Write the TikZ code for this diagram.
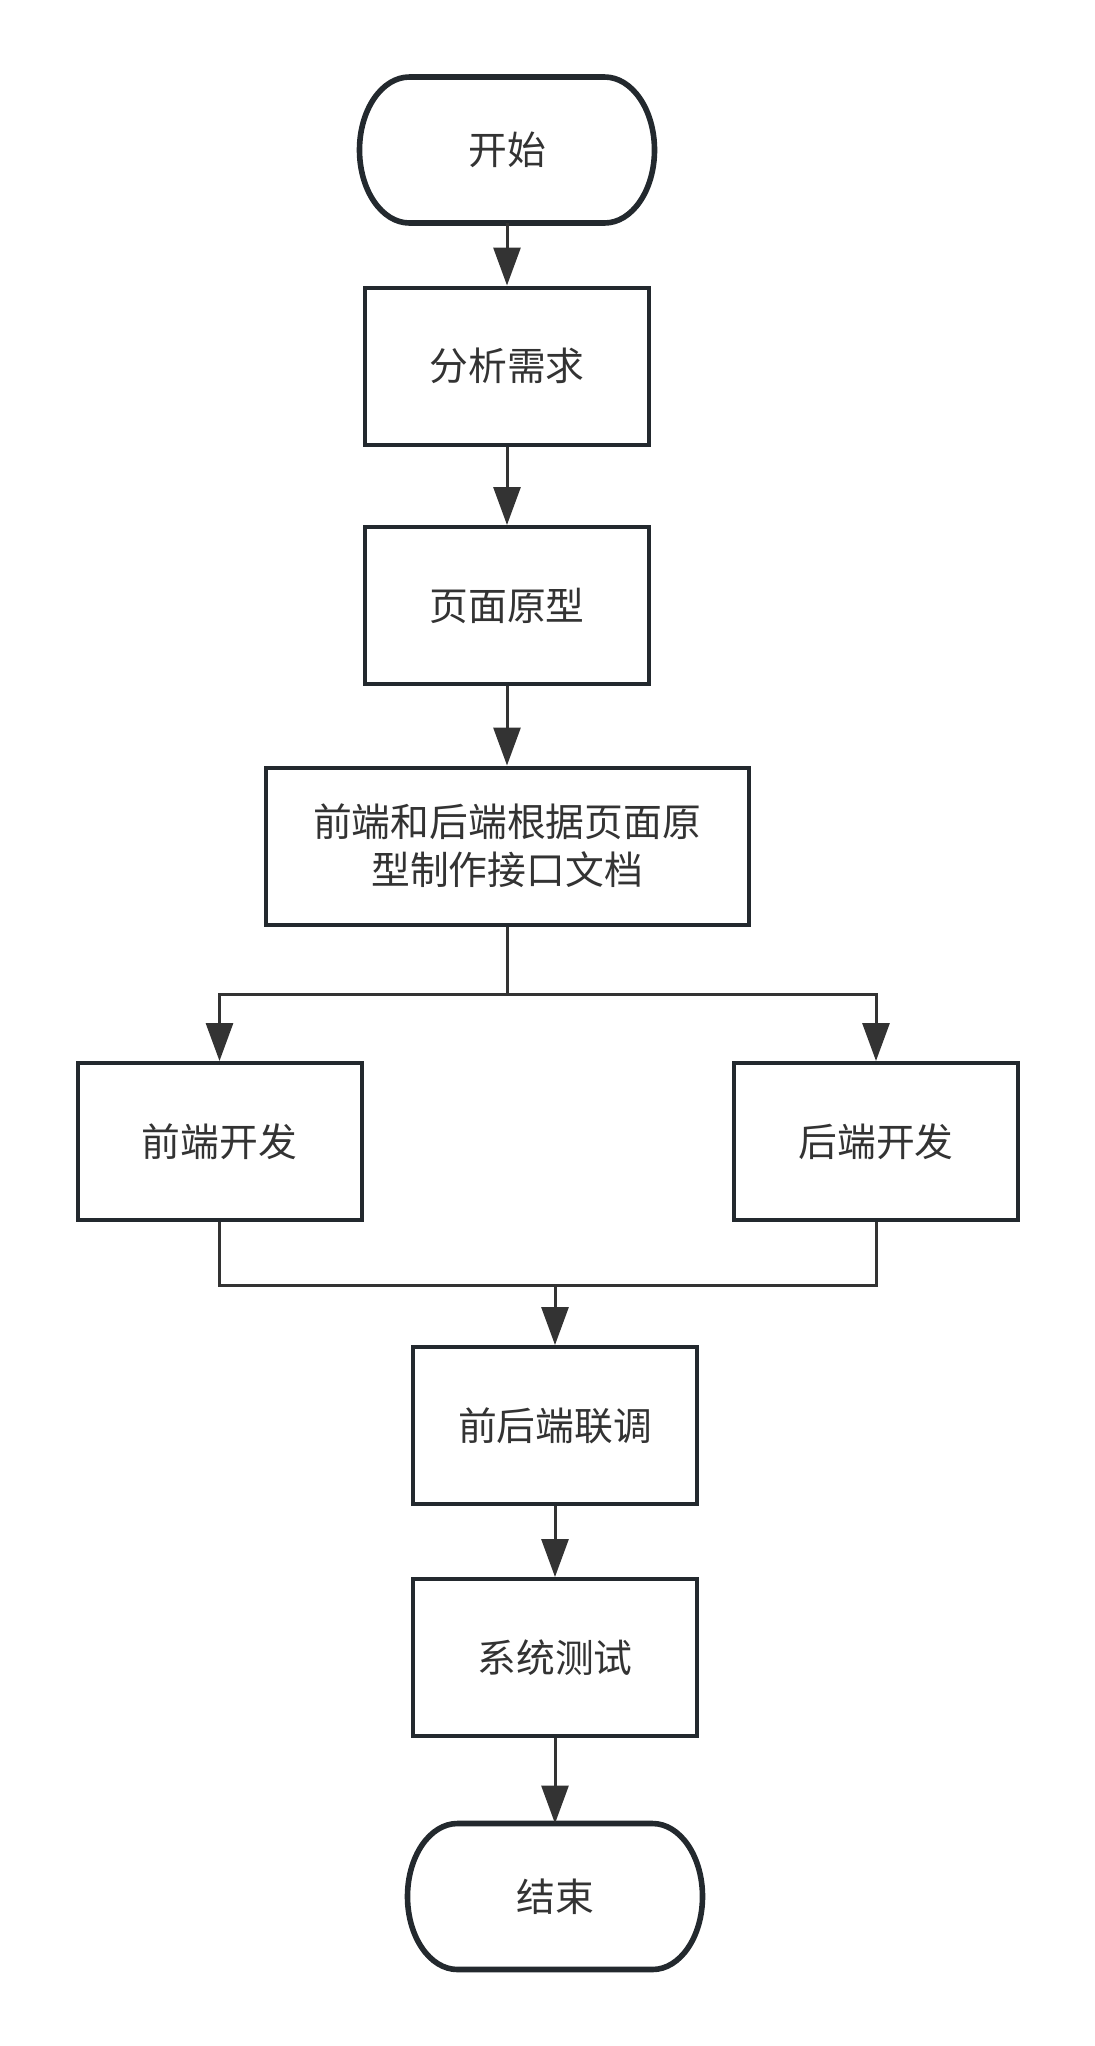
\documentclass[tikz,border=0pt]{standalone}
\usepackage{fontspec}
\setmainfont{Noto Sans CJK SC}
\usepackage{tikz}
\usetikzlibrary{arrows.meta, positioning, calc}
\definecolor{EdgeDark}{HTML}{23292E}
\definecolor{FlowGrey}{HTML}{333333}
\definecolor{TextGrey}{HTML}{333333}

% terminator outline with elliptic ends
\newcommand{\termedge}[1]{%
  \draw[termline] ([xshift=25pt]#1.north west) -- ([xshift=-25pt]#1.north east)
    arc[start angle=90, end angle=-90, x radius=25pt, y radius=36.5pt]
    -- ([xshift=25pt]#1.south west)
    arc[start angle=270, end angle=90, x radius=25pt, y radius=36.5pt] -- cycle;}

\begin{document}
\begin{tikzpicture}[
  x=0.5pt, y=-0.5pt,
  term/.style={
    rectangle, outer sep=0pt,
    minimum width=147.5pt, minimum height=73pt,
    align=center, font=\fontsize{19.4pt}{24pt}\selectfont\color{TextGrey}
  },
  termline/.style={draw=EdgeDark, line width=2.8pt},
  proc/.style={
    rectangle,
    draw=EdgeDark, fill=white,
    minimum width=142pt, minimum height=78.5pt,
    align=center, font=\fontsize{19.4pt}{24pt}\selectfont\color{TextGrey},
    line width=2pt
  },
  wide/.style={proc, minimum width=241.5pt},
  line/.style={line width=1.5pt, color=FlowGrey},
  arr/.style={line, -{Triangle[length=19pt, width=13.5pt]}},
]
\useasboundingbox (0,0) rectangle (1095,2046);

% Main column
\node[term] (start) at (507,150) {开始};
\termedge{start}
\node[proc] (need) at (507,366) {分析需求};
\node[proc] (proto) at (507,605.5) {页面原型};
\node[wide] (doc) at (507,846) {前端和后端根据页面原\\型制作接口文档};

% Parallel development
\node[proc] (fe) at (219.5,1141.5) {前端开发};
\node[proc] (be) at (876,1141.5) {后端开发};

% Lower column
\node[proc] (joint) at (555,1425.5) {前后端联调};
\node[proc] (test) at (555,1657.5) {系统测试};
\node[term] (end) at (555,1896.5) {结束};
\termedge{end}

% Split and merge points
\coordinate (split) at (507,994);
\coordinate (merge) at (555,1285);

% Arrows
\draw[arr] (start) -- (need);
\draw[arr] (need) -- (proto);
\draw[arr] (proto) -- (doc);
\draw[line] (doc) -- (split);
\draw[arr] (split) -| (fe);
\draw[arr] (split) -| (be);
\draw[line] (fe) |- (merge);
\draw[line] (be) |- (merge);
\draw[arr] (merge) -- (joint);
\draw[arr] (joint) -- (test);
\draw[arr] (test) -- (end);

\end{tikzpicture}
\end{document}
